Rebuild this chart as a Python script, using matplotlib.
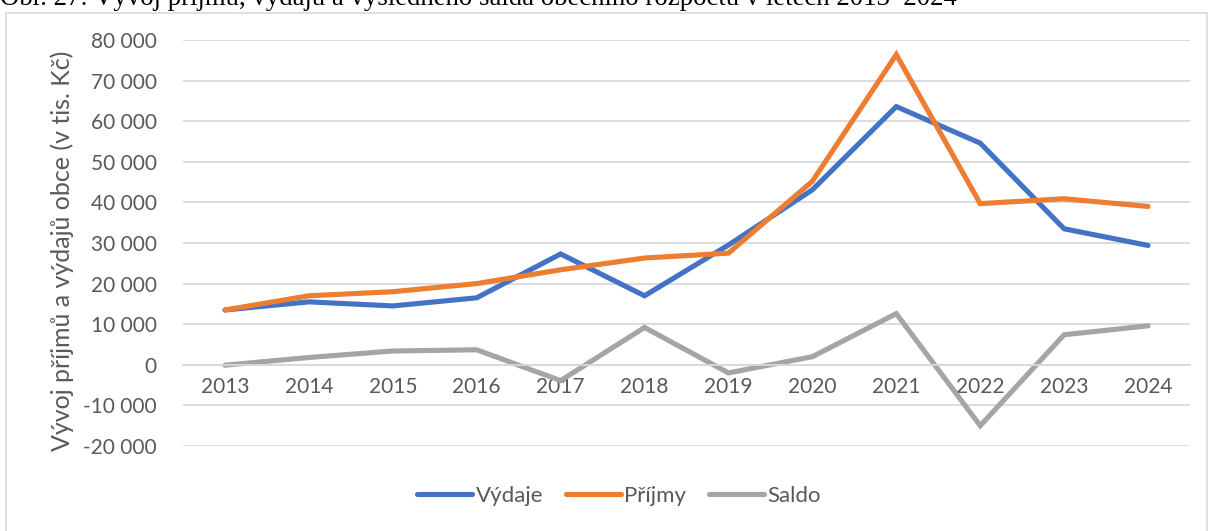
import matplotlib
matplotlib.use("Agg")
import matplotlib.pyplot as plt
from matplotlib.patches import Rectangle
from matplotlib.ticker import FuncFormatter

years = ["2013", "2014", "2015", "2016", "2017", "2018", "2019", "2020", "2021", "2022", "2023", "2024"]
vydaje = [13500, 15500, 14500, 16500, 27300, 17000, 29500, 43100, 63600, 54600, 33500, 29400]
prijmy = [13500, 17000, 18000, 20000, 23400, 26300, 27500, 45200, 76400, 39700, 40900, 39000]
saldo = [-100, 1800, 3400, 3700, -3900, 9200, -2000, 2000, 12600, -15000, 7400, 9600]
series_names = ["Výdaje", "Příjmy", "Saldo"]
y_ticks = list(range(-20000, 80001, 10000))
title = "Obr. 27: Vývoj příjmů, výdajů a výsledného salda obecního rozpočtu v letech 2013–2024"
y_label = "Vývoj příjmů a výdajů obce (v tis. Kč)"

colors = ["#4472C4", "#ED7D31", "#A5A5A5"]
txt = "#595959"
font = "Lato"

W, H = 1209, 531
fig = plt.figure(figsize=(W / 100, H / 100), dpi=100)

# chart frame
fig.patches.append(Rectangle((6 / W, -0.01), (W - 8) / W, 1 - 13 / H + 0.01,
                             transform=fig.transFigure, fill=False,
                             edgecolor="#D9D9D9", linewidth=1.2))

ax = fig.add_axes([183 / W, 1 - 446 / H, (1190 - 183) / W, (446 - 40) / H])
x = list(range(len(years)))
for vals, name, c in zip([vydaje, prijmy, saldo], series_names, colors):
    ax.plot(x, vals, color=c, linewidth=3.7, label=name, solid_capstyle="round",
            solid_joinstyle="miter")

ax.set_xlim(-0.5, len(years) - 0.5)
ax.set_ylim(-20000, 80000)
ax.set_yticks(y_ticks)
ax.yaxis.set_major_formatter(FuncFormatter(lambda v, p: f"{int(v):,}".replace(",", " ")))
ax.grid(axis="y", color="#D9D9D9", linewidth=1.3)
ax.set_axisbelow(True)
for s in ["top", "right", "left"]:
    ax.spines[s].set_visible(False)
ax.spines["bottom"].set_position(("data", 0))
ax.spines["bottom"].set_color("#D9D9D9")
ax.spines["bottom"].set_linewidth(1.3)
ax.set_xticks(x)
ax.set_xticklabels(years)
ax.tick_params(axis="x", length=0, pad=9, labelsize=15, labelcolor=txt)
ax.tick_params(axis="y", length=0, pad=19, labelsize=15, labelcolor=txt)
for lab in ax.get_xticklabels() + ax.get_yticklabels():
    lab.set_fontfamily(font)

fig.text(62 / W, 1 - 251 / H, y_label, rotation=90, ha="center", va="center",
         fontsize=18, color=txt, family=font)

leg = fig.legend(loc="center", bbox_to_anchor=(619 / W, 1 - 496 / H), ncol=3,
                 frameon=False, prop={"family": font, "size": 16},
                 handlelength=2.5, handletextpad=0.15, columnspacing=1.0)
for t in leg.get_texts():
    t.set_color(txt)

t = fig.text(0, 1 - 5 / H, title, ha="left", va="baseline",
             fontsize=16, family="Liberation Serif", color="black")
fig.canvas.draw()
bb = t.get_window_extent()
t.set_fontsize(16 * 958 / bb.width)

fig.savefig("out.png", dpi=100)
